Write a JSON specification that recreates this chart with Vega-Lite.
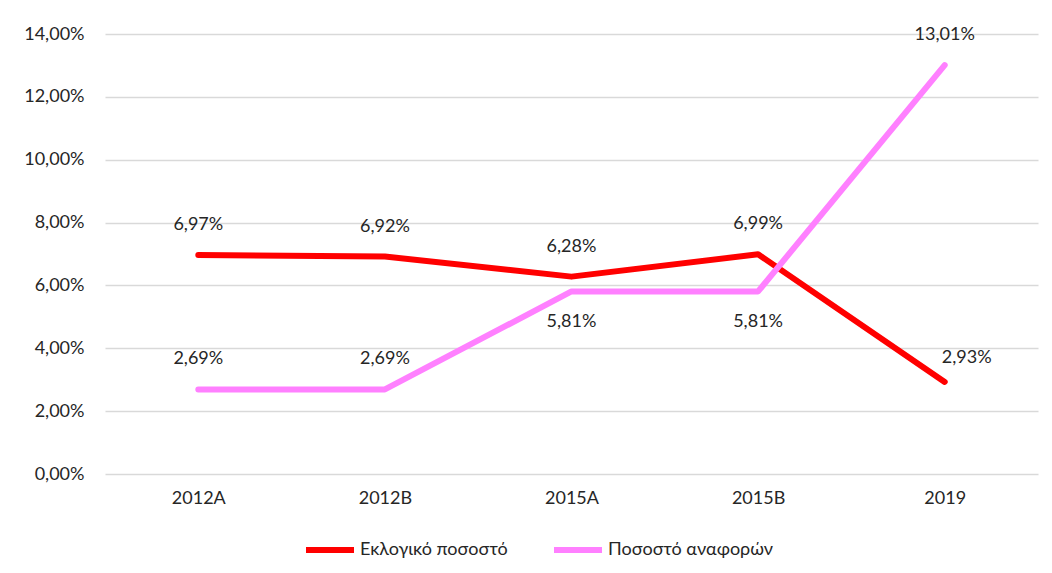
{
  "$schema": "https://vega.github.io/schema/vega-lite/v6.json",
  "autosize": {"type": "none"},
  "width": 933,
  "height": 440,
  "padding": {"left": 105, "top": 34, "right": 14, "bottom": 99},
  "background": "white",
  "config": {
    "locale": {"number": {"decimal": ",", "thousands": ".", "grouping": [3], "currency": ["", " €"]}},
    "font": "Lato",
    "view": {"stroke": null}
  },
  "data": {
    "values": [
      {"period": "2012A", "series": "Εκλογικό ποσοστό", "value": 0.0697},
      {"period": "2012B", "series": "Εκλογικό ποσοστό", "value": 0.0692},
      {"period": "2015A", "series": "Εκλογικό ποσοστό", "value": 0.0628},
      {"period": "2015B", "series": "Εκλογικό ποσοστό", "value": 0.0699},
      {"period": "2019", "series": "Εκλογικό ποσοστό", "value": 0.0293},
      {"period": "2012A", "series": "Ποσοστό αναφορών", "value": 0.0269},
      {"period": "2012B", "series": "Ποσοστό αναφορών", "value": 0.0269},
      {"period": "2015A", "series": "Ποσοστό αναφορών", "value": 0.0581},
      {"period": "2015B", "series": "Ποσοστό αναφορών", "value": 0.0581},
      {"period": "2019", "series": "Ποσοστό αναφορών", "value": 0.1301}
    ]
  },
  "encoding": {
    "x": {
      "field": "period", "type": "nominal", "sort": null,
      "scale": {"type": "point", "padding": 0.5},
      "axis": {"title": null, "labelAngle": 0, "domain": false, "ticks": false, "grid": false,
               "labelFontSize": 18, "labelColor": "#262626", "labelPadding": 15, "labelFont": "Lato"}
    },
    "y": {
      "field": "value", "type": "quantitative",
      "scale": {"domain": [0, 0.14], "nice": false},
      "axis": {"title": null, "format": ".2%", "values": [0, 0.02, 0.04, 0.06, 0.08, 0.1, 0.12, 0.14],
               "domain": false, "ticks": false, "grid": true, "gridColor": "#d9d9d9", "gridWidth": 1.5,
               "labelFontSize": 18, "labelColor": "#262626", "labelPadding": 21, "labelFont": "Lato"}
    }
  },
  "layer": [
    {
      "mark": {"type": "line", "strokeWidth": 6, "strokeCap": "round", "strokeJoin": "round"},
      "encoding": {
        "color": {
          "field": "series", "type": "nominal",
          "scale": {"domain": ["Εκλογικό ποσοστό", "Ποσοστό αναφορών"], "range": ["#ff0000", "#ff80ff"]},
          "legend": {
            "title": null, "orient": "none", "direction": "horizontal",
            "legendX": 198, "legendY": 489,
            "symbolType": "stroke", "symbolSize": 2304, "symbolStrokeWidth": 6,
            "labelFontSize": 18, "labelColor": "#262626", "labelFont": "Lato", "labelLimit": 400,
            "labelOffset": 3, "columnPadding": 34
          }
        }
      }
    },
    {
      "transform": [{"filter": "!((datum.series === 'Ποσοστό αναφορών' && (datum.period === '2015A' || datum.period === '2015B')) || (datum.series === 'Εκλογικό ποσοστό' && datum.period === '2019'))"}],
      "mark": {"type": "text", "dy": -30, "fontSize": 18, "color": "#262626", "baseline": "middle"},
      "encoding": {"text": {"field": "value", "type": "quantitative", "format": ".2%"}}
    },
    {
      "transform": [{"filter": "datum.series === 'Ποσοστό αναφορών' && (datum.period === '2015A' || datum.period === '2015B')"}],
      "mark": {"type": "text", "dy": 31, "fontSize": 18, "color": "#262626", "baseline": "middle"},
      "encoding": {"text": {"field": "value", "type": "quantitative", "format": ".2%"}}
    },
    {
      "transform": [{"filter": "datum.series === 'Εκλογικό ποσοστό' && datum.period === '2019'"}],
      "mark": {"type": "text", "dx": 22, "dy": -24, "fontSize": 18, "color": "#262626", "baseline": "middle"},
      "encoding": {"text": {"field": "value", "type": "quantitative", "format": ".2%"}}
    }
  ]
}
